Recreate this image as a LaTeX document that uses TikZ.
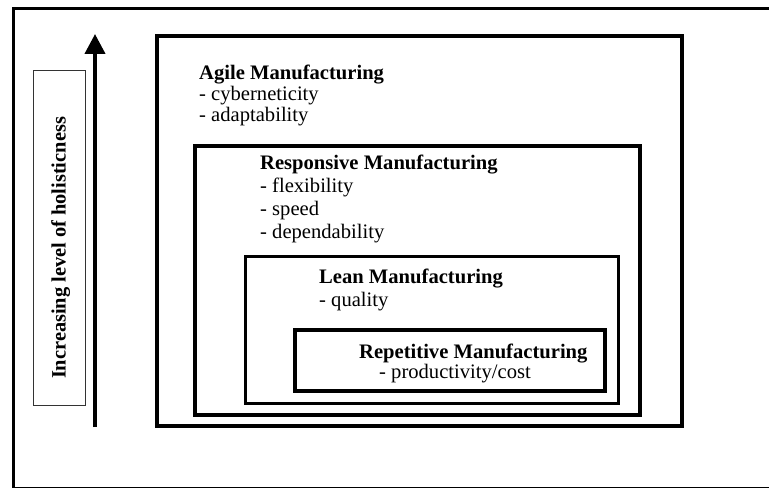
\documentclass[tikz,border=0pt]{standalone}
\usepackage{fontspec}
\setmainfont{Liberation Serif}
\usetikzlibrary{arrows.meta}
\tikzset{
  layer/.style={draw=black, fill=none, inner sep=0pt, outer sep=0pt},
  title/.style={anchor=base west, inner sep=0pt, font=\fontsize{20.6}{23}\selectfont\bfseries},
  item/.style={anchor=base west, inner sep=0pt, font=\fontsize{20.6}{23}\selectfont},
}
\begin{document}
\begin{tikzpicture}[x=1pt,y=-1pt]
\useasboundingbox (0,0) rectangle (769,489);
% outer frame
\draw[line width=3pt] (769,9) -- (13.5,9) -- (13.5,487.5);
\draw[line width=1.5pt] (12,487.5) -- (769,487.5);
% label box and arrow
\node[draw=black!80, line width=1pt, minimum width=52pt, minimum height=334pt, inner sep=0pt] (lbl) at (59,238) {};
\node[rotate=90, anchor=base, inner sep=0pt, font=\fontsize{20.4}{23}\selectfont\bfseries] (lbltxt) at (65.5,248) {Increasing level of holisticness};
\coordinate (arrbot) at (95,427);
\coordinate (arrtop) at (95,34);
\draw[line width=4pt, -{Triangle[length=20pt,width=20pt]}] (arrbot) -- (arrtop);
% nested boxes
\node[layer, line width=4pt, minimum width=525pt, minimum height=390pt] (agile) at (419,231) {};
\node[layer, line width=4pt, minimum width=445pt, minimum height=268.5pt] (resp) at (417.5,280.25) {};
\node[layer, line width=3pt, minimum width=373pt, minimum height=146.5pt] (lean) at (431.5,330.25) {};
\node[layer, line width=4pt, minimum width=310.5pt, minimum height=60.5pt] (rep) at (449.75,360.75) {};
% texts
\node[title] (t1) at (199,80) {Agile Manufacturing};
\node[item] (t1a) at (199,101) {- cyberneticity};
\node[item] (t1b) at (199,122) {- adaptability};
\node[title] (t2) at (260,170) {Responsive Manufacturing};
\node[item] (t2a) at (260,193) {- flexibility};
\node[item] (t2b) at (260,216) {- speed};
\node[item] (t2c) at (260,239) {- dependability};
\node[title] (t3) at (319,284) {Lean Manufacturing};
\node[item] (t3a) at (319,307) {- quality};
\node[title] (t4) at (359,358) {Repetitive Manufacturing};
\node[item] (t4a) at (379,378) {- productivity/cost};
\end{tikzpicture}
\end{document}
